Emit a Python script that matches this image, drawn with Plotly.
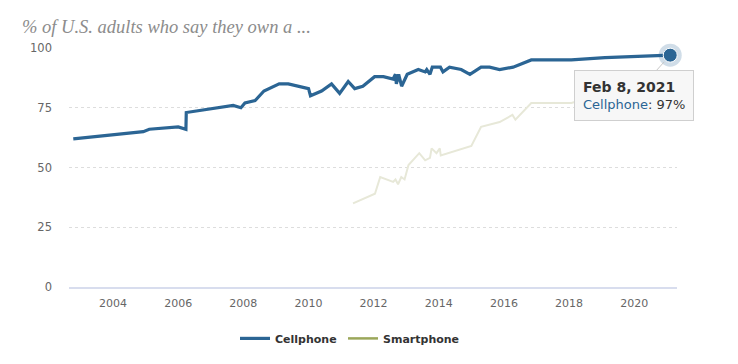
import plotly.graph_objects as go

# ---- data ----
cell_dates = ["2002-10-12", "2004-12-05", "2005-02-10", "2006-01-01", "2006-03-28", "2006-04-01",
              "2007-09-09", "2007-12-05", "2008-01-19", "2008-05-12", "2008-08-19", "2008-12-01",
              "2009-02-06", "2009-05-19", "2010-01-01", "2010-01-23", "2010-05-27", "2010-09-16",
              "2010-12-16", "2011-03-22", "2011-06-03", "2011-09-02", "2012-01-12", "2012-04-20",
              "2012-08-07", "2012-09-02", "2012-09-12", "2012-10-08", "2012-11-10", "2013-01-12",
              "2013-05-16", "2013-08-01", "2013-08-19", "2013-09-24", "2013-10-20", "2014-01-19",
              "2014-02-17", "2014-05-01", "2014-09-09", "2014-12-16", "2015-04-20", "2015-07-24",
              "2015-11-14", "2016-04-13", "2016-11-03", "2018-01-26", "2019-02-07", "2021-02-08"]
cell_values = [62, 65, 66, 67, 66, 73,
               76, 75, 77, 78, 82, 84,
               85, 85, 83, 80, 82, 85,
               81, 86, 83, 84, 88, 88,
               87, 89, 85, 89, 84, 89,
               91, 90, 91, 89, 92, 92,
               90, 92, 91, 89, 92, 92,
               91, 92, 95, 95, 96, 97]

smart_dates = ["2011-05-15", "2012-01-16", "2012-03-15", "2012-08-07", "2012-09-02", "2012-10-01",
               "2012-11-06", "2012-12-13", "2013-01-26", "2013-05-27", "2013-08-01", "2013-09-24",
               "2013-10-12", "2013-12-06", "2014-01-12", "2014-01-23", "2015-01-01", "2015-04-20",
               "2015-11-14", "2016-04-06", "2016-05-09", "2016-11-03", "2018-01-26", "2019-02-07",
               "2021-02-08"]
smart_values = [35, 39, 46, 44, 45, 43,
                46, 45, 51, 56, 53, 54,
                58, 56, 58, 55, 59, 67,
                69, 72, 70, 77, 77, 81,
                85]

series_names = ["Cellphone", "Smartphone"]
title_text = "% of U.S. adults who say they own a ..."
tooltip_date = "Feb 8, 2021"

# ---- styles ----
CELL = "#2b6594"
SMART_LEGEND = "#9ba75a"
SMART_FADED = "#e7e8d8"
FONT = "DejaVu Sans"

fig = go.Figure()

# smartphone faded line (inactive state)
fig.add_trace(go.Scatter(x=smart_dates, y=smart_values, mode="lines",
                         line=dict(color=SMART_FADED, width=2), showlegend=False,
                         hoverinfo="skip"))
# cellphone line
fig.add_trace(go.Scatter(x=cell_dates, y=cell_values, mode="lines", name=series_names[0],
                         line=dict(color=CELL, width=3.2), hoverinfo="skip", legend="legend"))
# legend-only smartphone entry
fig.add_trace(go.Scatter(x=[None], y=[None], mode="lines", name=series_names[1],
                         line=dict(color=SMART_LEGEND, width=2.5), legend="legend2"))
# hovered point halo + marker
fig.add_trace(go.Scatter(x=[cell_dates[-1]], y=[cell_values[-1]], mode="markers",
                         marker=dict(size=23, color="rgba(43,101,148,0.22)"),
                         showlegend=False, hoverinfo="skip", cliponaxis=False))
fig.add_trace(go.Scatter(x=[cell_dates[-1]], y=[cell_values[-1]], mode="markers",
                         marker=dict(size=14, color=CELL, line=dict(color="#ffffff", width=1)),
                         showlegend=False, hoverinfo="skip", cliponaxis=False))

# tooltip
fig.add_annotation(
    x=cell_dates[-1], y=cell_values[-1], xref="x", yref="y",
    text=(f"<span style='font-size:14px'><b>{tooltip_date}</b></span><br>"
          f"<span style='color:{CELL}'>{series_names[0]}</span>: {cell_values[-1]}%"),
    showarrow=True, arrowhead=0, arrowwidth=1, arrowcolor="#c8c8c8",
    ax=-36, ay=40, standoff=9,
    align="left", bgcolor="rgba(247,247,247,0.97)", bordercolor="#cfcfcf", borderwidth=1,
    borderpad=8, font=dict(family=FONT, size=13, color="#333333"),
)

legend_style = dict(orientation="h", xanchor="left", y=-0.21, yanchor="middle",
                    font=dict(family=FONT, size=11, color="#333333", weight="bold"))

# page body has an 8px margin: figure is shrunk and offset to match the window
fig.update_layout(
    width=730, height=356,
    margin=dict(l=61, r=61, t=40, b=76),
    paper_bgcolor="white", plot_bgcolor="white",
    title=dict(text=title_text, x=14 / 730, xanchor="left", y=1 - 19 / 356, yanchor="middle",
               font=dict(family="Liberation Serif", size=18.5, color="#8c8c8c", style="italic")),
    font=dict(family=FONT, color="#666666", size=11),
    showlegend=True,
    legend=dict(x=0.273, **legend_style),
    legend2=dict(x=0.4507, **legend_style),
    hovermode=False,
)

fig.update_xaxes(
    type="date", range=["2002-08-25", "2021-04-25"],
    tick0="2004-01-01", dtick="M24", tickformat="%Y",
    showgrid=False, showline=True, linecolor="#d8ddee", linewidth=2,
    ticks="", tickfont=dict(color="#666666", size=11), zeroline=False,
    ticklabelstandoff=5,
)
fig.update_yaxes(
    range=[0, 100], tickvals=[0, 25, 50, 75, 100],
    showgrid=True, gridcolor="#dddddd", griddash="dot", gridwidth=1,
    zeroline=False, showline=False, ticks="", ticklabelstandoff=16,
    tickfont=dict(color="#666666", size=11.5),
)

fig.write_html("out.html")
